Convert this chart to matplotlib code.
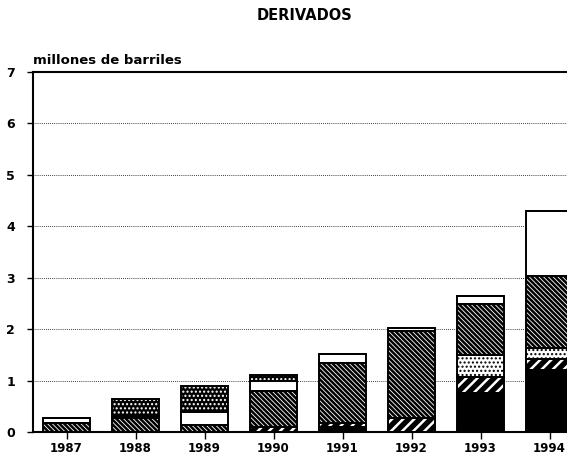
import matplotlib
matplotlib.use("Agg")
import matplotlib.pyplot as plt
import numpy as np

years = ['1987', '1988', '1989', '1990', '1991', '1992', '1993', '1994']
black_solid = [0.00, 0.00, 0.00, 0.00, 0.10, 0.00, 0.75, 1.21]
wide_hatch = [0.00, 0.00, 0.00, 0.10, 0.07, 0.27, 0.31, 0.21]
light_dots = [0.00, 0.00, 0.00, 0.00, 0.00, 0.00, 0.43, 0.22]
dark_hatch = [0.17, 0.27, 0.14, 0.70, 1.17, 1.70, 1.00, 1.39]
white_part = [0.10, 0.05, 0.24, 0.20, 0.18, 0.06, 0.16, 1.26]
dark_dots = [0.00, 0.32, 0.51, 0.10, 0.00, 0.00, 0.00, 0.00]
yticks = [0, 1, 2, 3, 4, 5, 6, 7]

plt.rcParams['font.family'] = ['DejaVu Sans']

fig = plt.figure(figsize=(5.67, 4.63), dpi=100)
L, R, B, T = 33, 580, 432, 72
ax = fig.add_axes([L / 567, 1 - B / 463, (R - L) / 567, (B - T) / 463])

x = np.arange(len(years))
width = 0.68

series = [
    (black_solid, 'black', 'black', None, 1.0),
    (wide_hatch, 'black', 'white', '///', 1.8),
    (light_dots, 'white', 'black', '....', 1.0),
    (dark_hatch, 'black', 'white', '\\' * 7, 0.6),
    (white_part, 'white', 'white', None, 1.0),
    (dark_dots, 'black', 'white', '....', 1.0),
]

bottom = np.zeros(len(years))
for vals, fc, hc, hatch, hlw in series:
    v = np.array(vals)
    with plt.rc_context({'hatch.linewidth': hlw}):
        ax.bar(x, v, width, bottom=bottom, facecolor=fc, edgecolor=hc,
               hatch=hatch, linewidth=0, zorder=3)
    ax.bar(x, v, width, bottom=bottom, fill=False, edgecolor='black',
           linewidth=1.4, zorder=4)
    bottom = bottom + v

ax.set_xlim(-0.486, (R - 66.5) / 69.0)
ax.set_ylim(0, 7)
ax.set_yticks(yticks)
ax.set_yticklabels([str(t) for t in yticks], fontsize=9, fontweight='heavy')
ax.set_xticks(x)
ax.set_xticklabels(years, fontsize=8.5, fontweight='heavy')
ax.tick_params(axis='y', length=4, width=1, pad=9)
ax.tick_params(axis='x', length=5, width=1, pad=2)

for g in yticks[1:-1]:
    ax.axhline(g, color='black', linewidth=0.6, linestyle=(0, (1, 1.5)), zorder=1)

for s in ['left', 'bottom', 'top']:
    ax.spines[s].set_linewidth(1.5)
ax.spines['right'].set_visible(False)

fig.text(305 / 567, 1 - 16 / 463, 'DERIVADOS', ha='center', va='center',
         fontsize=10.5, fontweight='heavy')
fig.text(33 / 567, 1 - 60 / 463, 'millones de barriles', ha='left', va='center',
         fontsize=9.5, fontweight='heavy')

fig.savefig('out.png', dpi=100)
